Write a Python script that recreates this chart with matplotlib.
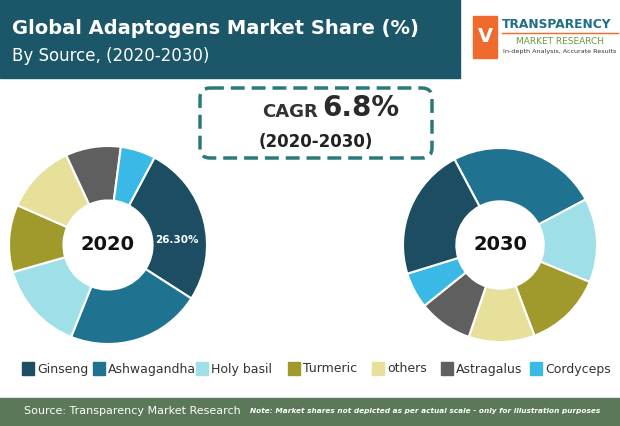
import matplotlib.pyplot as plt
from matplotlib.patches import Rectangle, FancyBboxPatch

W, H = 620, 426

sources = ["Ginseng", "Ashwagandha", "Holy basil", "Turmeric", "others", "Astragalus", "Cordyceps"]
colors = ["#1d4d63", "#1f7391", "#9fdfe8", "#a09a2c", "#e6e09a", "#5f5f5f", "#3ab8e6"]
share_2020 = [26.3, 22.0, 14.5, 11.0, 11.5, 9.0, 5.7]
share_2030 = [22.0, 25.0, 14.0, 13.0, 11.0, 9.0, 6.0]
# 2030 ring is drawn starting from Ashwagandha
order_2030 = [1, 2, 3, 4, 5, 6, 0]

fig = plt.figure(figsize=(W / 100, H / 100), dpi=100)
bg = fig.add_axes([0, 0, 1, 1])
bg.set_xlim(0, W)
bg.set_ylim(H, 0)
bg.axis("off")

# header
bg.add_patch(Rectangle((0, 0), 460, 78, color="#1b5769"))
bg.text(12, 28, "Global Adaptogens Market Share (%)", color="white", fontsize=14,
        fontweight="bold", va="center")
bg.text(12, 56, "By Source, (2020-2030)", color="white", fontsize=12, va="center")
# logo
bg.add_patch(Rectangle((473, 16), 24, 42, color="#ef6a2d"))
bg.text(485, 37, "V", color="white", fontsize=14, fontweight="bold", ha="center", va="center")
bg.text(502, 24, "TRANSPARENCY", color="#1e6e8a", fontsize=8.8, fontweight="bold", va="center")
bg.plot([502, 618], [33, 33], color="#ef6a2d", lw=1)
bg.text(560, 42, "MARKET RESEARCH", color="#6a9a3a", fontsize=6.5, va="center", ha="center")
bg.text(560, 52, "In-depth Analysis, Accurate Results", color="#333333", fontsize=4.6, va="center", ha="center")

# CAGR box
bg.add_patch(FancyBboxPatch((200, 88), 232, 70, boxstyle="round,pad=0,rounding_size=10",
                            fill=False, ec="#2a7a7a", lw=2.5, ls=(0, (4, 2))))
bg.text(318, 112, "CAGR", fontsize=13, fontweight="bold", color="#333333", ha="right", va="center")
bg.text(322, 108, "6.8%", fontsize=20, fontweight="bold", color="#2a2a2a", ha="left", va="center")
bg.text(316, 142, "(2020-2030)", fontsize=12, fontweight="bold", color="#222222", ha="center", va="center")

# legend
lx = [22, 93, 196, 288, 372, 441, 530]
for x, name, c in zip(lx, sources, colors):
    bg.add_patch(Rectangle((x, 362), 12, 13, color=c))
    bg.text(x + 15, 369, name, fontsize=9, va="center", color="#333333")

# footer
bg.add_patch(Rectangle((0, 398), W, 28, color="#5b7858"))
bg.text(24, 411, "Source: Transparency Market Research", color="white", fontsize=8, va="center")
bg.text(250, 411, "Note: Market shares not depicted as per actual scale - only for illustration purposes",
        color="white", fontsize=5.3, style="italic", fontweight="bold", va="center")


def donut(cx, cy, r, vals, cols, start, label):
    ax = fig.add_axes([(cx - r) / W, (H - cy - r) / H, 2 * r / W, 2 * r / H])
    ax.pie(vals, colors=cols, startangle=start, counterclock=False,
           wedgeprops=dict(width=0.55, edgecolor="white", linewidth=1.5))
    ax.set_xlim(-1.01, 1.01)
    ax.set_ylim(-1.01, 1.01)
    ax.set_aspect("equal")
    ax.text(0, 0, label, ha="center", va="center", fontsize=14, fontweight="bold", color="#111111")
    return ax


ax1 = donut(108, 245, 100, share_2020, colors, 62, "2020")
ax1.text(0.70, 0.05, "26.30%", ha="center", va="center", fontsize=7.5, fontweight="bold",
         color="white", zorder=10)
donut(500, 245, 98, [share_2030[i] for i in order_2030], [colors[i] for i in order_2030], 118, "2030")

fig.savefig("out.png", dpi=100)
